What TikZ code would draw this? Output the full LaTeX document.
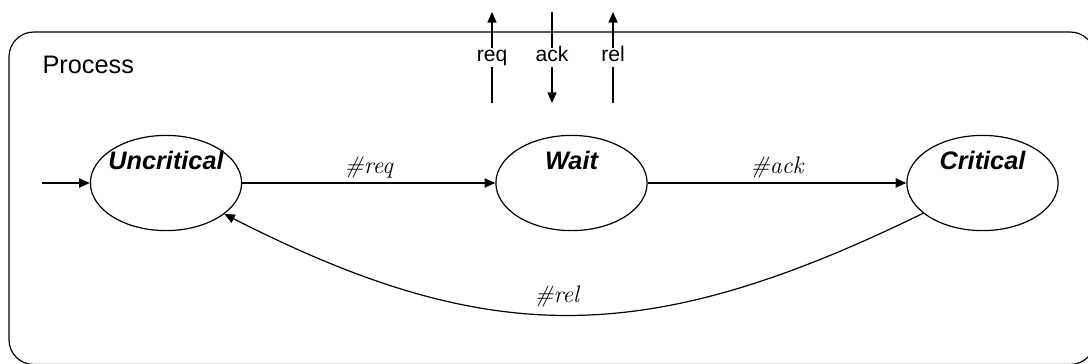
\documentclass[tikz,border=0pt]{standalone}
\usepackage{fontspec}
\newfontfamily\arialfont{Liberation Sans}
\usepackage{tikz}
\usetikzlibrary{arrows.meta}
\usetikzlibrary{positioning,calc}
\usetikzlibrary{shapes.geometric}

\begin{document}
\begin{tikzpicture}[x=0.025cm,y=-0.025cm,line width=0.85pt,
    procstate/.style={ellipse,draw,minimum width=3.78cm,minimum height=2.38cm,inner sep=0pt},
    statename/.style={font=\fontsize{18}{20}\arialfont\bfseries\itshape,inner sep=0pt},
    portlabel/.style={font=\fontsize{15}{17}\arialfont,fill=white,inner sep=2.5pt,
      text height=0.72em,text depth=0.2em},
    translabel/.style={font=\fontsize{17}{19}\selectfont\itshape,inner sep=3pt},
    arr/.style={-{Triangle[length=7.5pt,width=6.5pt]}}]
    \clip (0,0) rectangle (1088,363);
    % process frame, runs off the right and bottom edge
    \draw[rounded corners=0.62cm] (9,32) rectangle (1095,364.5);
    \node[font=\fontsize{18}{20}\arialfont,inner sep=0pt,anchor=base west]
      (procname) at (42,73) {Process};
    % states
    \node[procstate] (unc) at (166,183) {};
    \node[procstate] (wait) at (571.5,183) {};
    \node[procstate] (crit) at (982.5,183) {};
    \node[statename,below=0.4cm of unc.north] (unclbl) {Uncritical};
    \node[statename,below=0.4cm of wait.north] (waitlbl) {Wait};
    \node[statename,below=0.4cm of crit.north] (critlbl) {Critical};
    % ports at the top
    \coordinate (reqlo) at (492,103);  \coordinate (reqhi) at (492,12);
    \coordinate (acklo) at (552,103);  \coordinate (ackhi) at (552,12);
    \coordinate (rello) at (613,103);  \coordinate (relhi) at (613,12);
    \draw[arr] (reqlo) -- node[portlabel] (req) {req} (reqhi);
    \draw[arr] (ackhi) -- node[portlabel] (ack) {ack} (acklo);
    \draw[arr] (rello) -- node[portlabel] (rel) {rel} (relhi);
    % transitions
    \coordinate (init) at (42,183);
    \draw[arr] (init) -- (unc.west);
    \draw[arr] (unc.east) -- node[translabel,above] (treq) {\#req} (wait.west);
    \draw[arr] (wait.east) -- node[translabel,above] (tack) {\#ack} (crit.west);
    \draw[arr] (crit.207) .. controls ($(crit.207)+(-276,135)$) and ($(unc.332)+(265,135)$)
      .. node[translabel,above,pos=0.52,yshift=2pt] (trel) {\#rel} (unc.332);
  \end{tikzpicture}
\end{document}
